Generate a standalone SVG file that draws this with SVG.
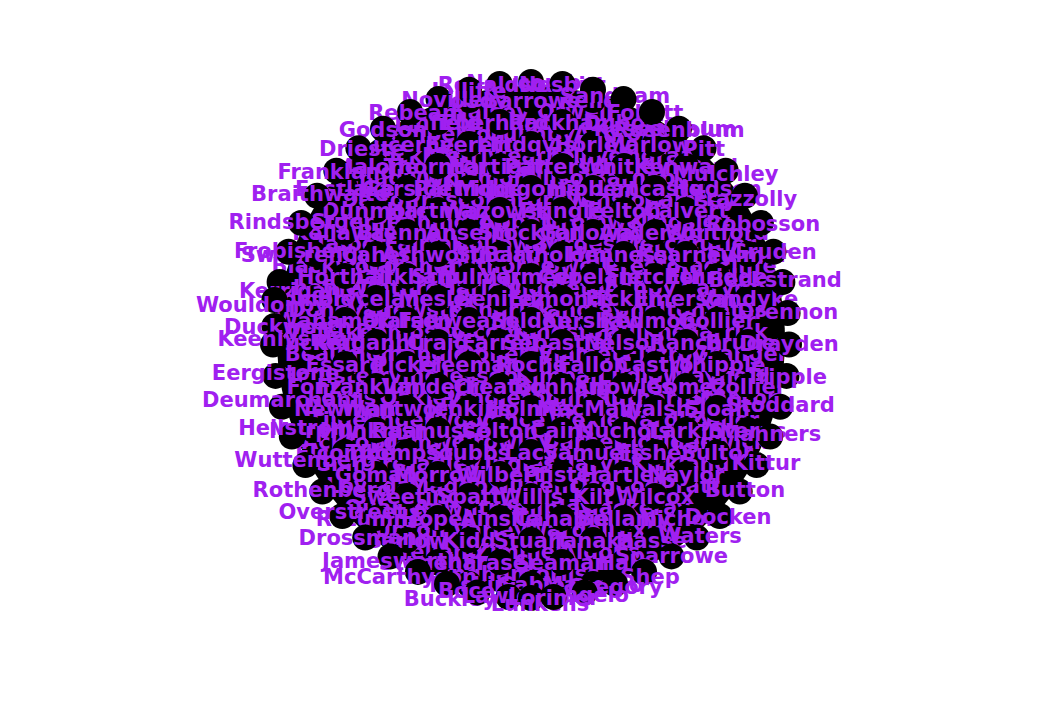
<svg xmlns="http://www.w3.org/2000/svg" width="1062" height="709" viewBox="0 0 1062 709">
<style>
.n circle{fill:#000}
.n text{font-family:"DejaVu Sans","Liberation Sans",Arial,sans-serif;font-weight:bold;font-size:21px;fill:#A020F0;text-anchor:middle}
</style>
<rect width="1062" height="709" fill="#fff"/>
<g id="cluster"><circle cx="531" cy="340" r="254" fill="#000"/></g>
<g id="connectors"></g>
<g id="interior-b">
<g id="n-Halsey" class="n"><circle cx="490" cy="111" r="13"/><text x="490" y="119">Halsey</text></g>
<g id="n-Orwell" class="n"><circle cx="575" cy="111" r="13"/><text x="575" y="119">Orwell</text></g>
<g id="n-Pemberton" class="n"><circle cx="440" cy="133" r="13"/><text x="440" y="141">Pemberton</text></g>
<g id="n-Quimby" class="n"><circle cx="530" cy="133" r="13"/><text x="530" y="141">Quimby</text></g>
<g id="n-Ashford" class="n"><circle cx="620" cy="133" r="13"/><text x="620" y="141">Ashford</text></g>
<g id="n-Lockhart" class="n"><circle cx="420" cy="155" r="13"/><text x="420" y="163">Lockhart</text></g>
<g id="n-Merriweather" class="n"><circle cx="505" cy="155" r="13"/><text x="505" y="163">Merriweather</text></g>
<g id="n-Tolliver" class="n"><circle cx="590" cy="155" r="13"/><text x="590" y="163">Tolliver</text></g>
<g id="n-Ingram" class="n"><circle cx="660" cy="155" r="13"/><text x="660" y="163">Ingram</text></g>
<g id="n-Chadwick" class="n"><circle cx="400" cy="177" r="13"/><text x="400" y="185">Chadwick</text></g>
<g id="n-Whitmore" class="n"><circle cx="480" cy="177" r="13"/><text x="480" y="185">Whitmore</text></g>
<g id="n-Ellison" class="n"><circle cx="560" cy="177" r="13"/><text x="560" y="185">Ellison</text></g>
<g id="n-Barnaby" class="n"><circle cx="640" cy="177" r="13"/><text x="640" y="185">Barnaby</text></g>
<g id="n-Dalton" class="n"><circle cx="380" cy="199" r="13"/><text x="380" y="207">Dalton</text></g>
<g id="n-Prescott" class="n"><circle cx="455" cy="199" r="13"/><text x="455" y="207">Prescott</text></g>
<g id="n-Hargrove" class="n"><circle cx="540" cy="199" r="13"/><text x="540" y="207">Hargrove</text></g>
<g id="n-Winslow" class="n"><circle cx="615" cy="199" r="13"/><text x="615" y="207">Winslow</text></g>
<g id="n-Ramsey" class="n"><circle cx="690" cy="199" r="13"/><text x="690" y="207">Ramsey</text></g>
<g id="n-Sutcliffe" class="n"><circle cx="360" cy="221" r="13"/><text x="360" y="229">Sutcliffe</text></g>
<g id="n-Pennington" class="n"><circle cx="440" cy="221" r="13"/><text x="440" y="229">Pennington</text></g>
<g id="n-Abbott" class="n"><circle cx="520" cy="221" r="13"/><text x="520" y="229">Abbott</text></g>
<g id="n-Cromwell" class="n"><circle cx="600" cy="221" r="13"/><text x="600" y="229">Cromwell</text></g>
<g id="n-Kingsley" class="n"><circle cx="680" cy="221" r="13"/><text x="680" y="229">Kingsley</text></g>
<g id="n-Talbot" class="n"><circle cx="350" cy="243" r="13"/><text x="350" y="251">Talbot</text></g>
<g id="n-Fairfax" class="n"><circle cx="425" cy="243" r="13"/><text x="425" y="251">Fairfax</text></g>
<g id="n-Holloway" class="n"><circle cx="505" cy="243" r="13"/><text x="505" y="251">Holloway</text></g>
<g id="n-Burgess" class="n"><circle cx="580" cy="243" r="13"/><text x="580" y="251">Burgess</text></g>
<g id="n-Mercer" class="n"><circle cx="660" cy="243" r="13"/><text x="660" y="251">Mercer</text></g>
<g id="n-Cutler" class="n"><circle cx="720" cy="243" r="13"/><text x="720" y="251">Cutler</text></g>
<g id="n-Blackwood" class="n"><circle cx="335" cy="265" r="13"/><text x="335" y="273">Blackwood</text></g>
<g id="n-Gardner" class="n"><circle cx="410" cy="265" r="13"/><text x="410" y="273">Gardner</text></g>
<g id="n-Hawthorne" class="n"><circle cx="490" cy="265" r="13"/><text x="490" y="273">Hawthorne</text></g>
<g id="n-Lowell" class="n"><circle cx="570" cy="265" r="13"/><text x="570" y="273">Lowell</text></g>
<g id="n-Preston" class="n"><circle cx="650" cy="265" r="13"/><text x="650" y="273">Preston</text></g>
<g id="n-Radcliffe" class="n"><circle cx="725" cy="265" r="13"/><text x="725" y="273">Radcliffe</text></g>
<g id="n-Sheffield" class="n"><circle cx="330" cy="287" r="13"/><text x="330" y="295">Sheffield</text></g>
<g id="n-Winthrop" class="n"><circle cx="400" cy="287" r="13"/><text x="400" y="295">Winthrop</text></g>
<g id="n-Harlow" class="n"><circle cx="480" cy="287" r="13"/><text x="480" y="295">Harlow</text></g>
<g id="n-Middleton" class="n"><circle cx="560" cy="287" r="13"/><text x="560" y="295">Middleton</text></g>
<g id="n-Ashby" class="n"><circle cx="640" cy="287" r="13"/><text x="640" y="295">Ashby</text></g>
<g id="n-Carver" class="n"><circle cx="720" cy="287" r="13"/><text x="720" y="295">Carver</text></g>
<g id="n-Donovan" class="n"><circle cx="340" cy="309" r="13"/><text x="340" y="317">Donovan</text></g>
<g id="n-Brewster" class="n"><circle cx="420" cy="309" r="13"/><text x="420" y="317">Brewster</text></g>
<g id="n-Kendrick" class="n"><circle cx="500" cy="309" r="13"/><text x="500" y="317">Kendrick</text></g>
<g id="n-Langley" class="n"><circle cx="580" cy="309" r="13"/><text x="580" y="317">Langley</text></g>
<g id="n-Shelton" class="n"><circle cx="660" cy="309" r="13"/><text x="660" y="317">Shelton</text></g>
<g id="n-Yates" class="n"><circle cx="735" cy="309" r="13"/><text x="735" y="317">Yates</text></g>
<g id="n-Whitaker" class="n"><circle cx="330" cy="331" r="13"/><text x="330" y="339">Whitaker</text></g>
<g id="n-Dempsey" class="n"><circle cx="410" cy="331" r="13"/><text x="410" y="339">Dempsey</text></g>
<g id="n-Holcomb" class="n"><circle cx="485" cy="331" r="13"/><text x="485" y="339">Holcomb</text></g>
<g id="n-Kingston" class="n"><circle cx="565" cy="331" r="13"/><text x="565" y="339">Kingston</text></g>
<g id="n-Faulkner" class="n"><circle cx="645" cy="331" r="13"/><text x="645" y="339">Faulkner</text></g>
<g id="n-Garrick" class="n"><circle cx="725" cy="331" r="13"/><text x="725" y="339">Garrick</text></g>
<g id="n-Beaumont" class="n"><circle cx="345" cy="353" r="13"/><text x="345" y="361">Beaumont</text></g>
<g id="n-Chandler" class="n"><circle cx="425" cy="353" r="13"/><text x="425" y="361">Chandler</text></g>
<g id="n-Doherty" class="n"><circle cx="505" cy="353" r="13"/><text x="505" y="361">Doherty</text></g>
<g id="n-Emmett" class="n"><circle cx="585" cy="353" r="13"/><text x="585" y="361">Emmett</text></g>
<g id="n-Fitzroy" class="n"><circle cx="665" cy="353" r="13"/><text x="665" y="361">Fitzroy</text></g>
<g id="n-Granger" class="n"><circle cx="740" cy="353" r="13"/><text x="740" y="361">Granger</text></g>
<g id="n-Hollister" class="n"><circle cx="330" cy="375" r="13"/><text x="330" y="383">Hollister</text></g>
<g id="n-Irving" class="n"><circle cx="405" cy="375" r="13"/><text x="405" y="383">Irving</text></g>
<g id="n-Jessop" class="n"><circle cx="480" cy="375" r="13"/><text x="480" y="383">Jessop</text></g>
<g id="n-Kimball" class="n"><circle cx="560" cy="375" r="13"/><text x="560" y="383">Kimball</text></g>
<g id="n-Ludlow" class="n"><circle cx="640" cy="375" r="13"/><text x="640" y="383">Ludlow</text></g>
<g id="n-Mayfield" class="n"><circle cx="720" cy="375" r="13"/><text x="720" y="383">Mayfield</text></g>
<g id="n-Norris" class="n"><circle cx="340" cy="397" r="13"/><text x="340" y="405">Norris</text></g>
<g id="n-Oakley" class="n"><circle cx="420" cy="397" r="13"/><text x="420" y="405">Oakley</text></g>
<g id="n-Pendleton" class="n"><circle cx="500" cy="397" r="13"/><text x="500" y="405">Pendleton</text></g>
<g id="n-Quinlan" class="n"><circle cx="580" cy="397" r="13"/><text x="580" y="405">Quinlan</text></g>
<g id="n-Rutherford" class="n"><circle cx="660" cy="397" r="13"/><text x="660" y="405">Rutherford</text></g>
<g id="n-Stanton" class="n"><circle cx="735" cy="397" r="13"/><text x="735" y="405">Stanton</text></g>
<g id="n-Tilden" class="n"><circle cx="345" cy="419" r="13"/><text x="345" y="427">Tilden</text></g>
<g id="n-Underwood" class="n"><circle cx="430" cy="419" r="13"/><text x="430" y="427">Underwood</text></g>
<g id="n-Vance" class="n"><circle cx="510" cy="419" r="13"/><text x="510" y="427">Vance</text></g>
<g id="n-Wexler" class="n"><circle cx="590" cy="419" r="13"/><text x="590" y="427">Wexler</text></g>
<g id="n-Yardley" class="n"><circle cx="670" cy="419" r="13"/><text x="670" y="427">Yardley</text></g>
<g id="n-Zeller" class="n"><circle cx="725" cy="419" r="13"/><text x="725" y="427">Zeller</text></g>
<g id="n-Ackroyd" class="n"><circle cx="350" cy="441" r="13"/><text x="350" y="449">Ackroyd</text></g>
<g id="n-Bramwell" class="n"><circle cx="425" cy="441" r="13"/><text x="425" y="449">Bramwell</text></g>
<g id="n-Crowley" class="n"><circle cx="505" cy="441" r="13"/><text x="505" y="449">Crowley</text></g>
<g id="n-Darnell" class="n"><circle cx="585" cy="441" r="13"/><text x="585" y="449">Darnell</text></g>
<g id="n-Eldridge" class="n"><circle cx="665" cy="441" r="13"/><text x="665" y="449">Eldridge</text></g>
<g id="n-Fenwick" class="n"><circle cx="720" cy="441" r="13"/><text x="720" y="449">Fenwick</text></g>
<g id="n-Gilmore" class="n"><circle cx="360" cy="463" r="13"/><text x="360" y="471">Gilmore</text></g>
<g id="n-Hadley" class="n"><circle cx="440" cy="463" r="13"/><text x="440" y="471">Hadley</text></g>
<g id="n-Ingles" class="n"><circle cx="520" cy="463" r="13"/><text x="520" y="471">Ingles</text></g>
<g id="n-Jarvis" class="n"><circle cx="600" cy="463" r="13"/><text x="600" y="471">Jarvis</text></g>
<g id="n-Kirkland" class="n"><circle cx="680" cy="463" r="13"/><text x="680" y="471">Kirkland</text></g>
<g id="n-Loveday" class="n"><circle cx="375" cy="485" r="13"/><text x="375" y="493">Loveday</text></g>
<g id="n-Maddox" class="n"><circle cx="455" cy="485" r="13"/><text x="455" y="493">Maddox</text></g>
<g id="n-Nugent" class="n"><circle cx="535" cy="485" r="13"/><text x="535" y="493">Nugent</text></g>
<g id="n-Osgood" class="n"><circle cx="615" cy="485" r="13"/><text x="615" y="493">Osgood</text></g>
<g id="n-Pratt" class="n"><circle cx="690" cy="485" r="13"/><text x="690" y="493">Pratt</text></g>
<g id="n-Quarles" class="n"><circle cx="390" cy="507" r="13"/><text x="390" y="515">Quarles</text></g>
<g id="n-Rowntree" class="n"><circle cx="470" cy="507" r="13"/><text x="470" y="515">Rowntree</text></g>
<g id="n-Shipley" class="n"><circle cx="550" cy="507" r="13"/><text x="550" y="515">Shipley</text></g>
<g id="n-Thackeray" class="n"><circle cx="630" cy="507" r="13"/><text x="630" y="515">Thackeray</text></g>
<g id="n-Upton" class="n"><circle cx="410" cy="529" r="13"/><text x="410" y="537">Upton</text></g>
<g id="n-Varley" class="n"><circle cx="490" cy="529" r="13"/><text x="490" y="537">Varley</text></g>
<g id="n-Wardell" class="n"><circle cx="570" cy="529" r="13"/><text x="570" y="537">Wardell</text></g>
<g id="n-Exley" class="n"><circle cx="650" cy="529" r="13"/><text x="650" y="537">Exley</text></g>
<g id="n-Yelland" class="n"><circle cx="440" cy="551" r="13"/><text x="440" y="559">Yelland</text></g>
<g id="n-Zimmer" class="n"><circle cx="520" cy="551" r="13"/><text x="520" y="559">Zimmer</text></g>
<g id="n-Aldous" class="n"><circle cx="600" cy="551" r="13"/><text x="600" y="559">Aldous</text></g>
<g id="n-Bingham" class="n"><circle cx="480" cy="573" r="13"/><text x="480" y="581">Bingham</text></g>
<g id="n-Corliss" class="n"><circle cx="560" cy="573" r="13"/><text x="560" y="581">Corliss</text></g>
</g>
<g id="interior">
<g id="n-Moody" class="n"><circle cx="469" cy="100" r="13"/><text x="469" y="108">Moody</text></g>
<g id="n-Barrows" class="n"><circle cx="531" cy="100" r="13"/><text x="531" y="108">Barrows</text></g>
<g id="n-Keller" class="n"><circle cx="593" cy="100" r="13"/><text x="593" y="108">Keller</text></g>
<g id="n-Linfield" class="n"><circle cx="438" cy="122" r="13"/><text x="438" y="130">Linfield</text></g>
<g id="n-Eberhardt" class="n"><circle cx="500" cy="122" r="13"/><text x="500" y="130">Eberhardt</text></g>
<g id="n-Rackham" class="n"><circle cx="562" cy="122" r="13"/><text x="562" y="130">Rackham</text></g>
<g id="n-Dubois" class="n"><circle cx="624" cy="122" r="13"/><text x="624" y="130">Dubois</text></g>
<g id="n-Lucerne" class="n"><circle cx="407" cy="144" r="13"/><text x="407" y="152">Lucerne</text></g>
<g id="n-Everett" class="n"><circle cx="469" cy="144" r="13"/><text x="469" y="152">Everett</text></g>
<g id="n-Lindqvist" class="n"><circle cx="531" cy="144" r="13"/><text x="531" y="152">Lindqvist</text></g>
<g id="n-Horley" class="n"><circle cx="593" cy="144" r="13"/><text x="593" y="152">Horley</text></g>
<g id="n-Marlowe" class="n"><circle cx="655" cy="144" r="13"/><text x="655" y="152">Marlowe</text></g>
<g id="n-Malone" class="n"><circle cx="376" cy="166" r="13"/><text x="376" y="174">Malone</text></g>
<g id="n-Thornton" class="n"><circle cx="438" cy="166" r="13"/><text x="438" y="174">Thornton</text></g>
<g id="n-Hartigan" class="n"><circle cx="500" cy="166" r="13"/><text x="500" y="174">Hartigan</text></g>
<g id="n-Patterson" class="n"><circle cx="562" cy="166" r="13"/><text x="562" y="174">Patterson</text></g>
<g id="n-Whitley" class="n"><circle cx="624" cy="166" r="13"/><text x="624" y="174">Whitley</text></g>
<g id="n-Kenward" class="n"><circle cx="686" cy="166" r="13"/><text x="686" y="174">Kenward</text></g>
<g id="n-Eastlake" class="n"><circle cx="345" cy="188" r="13"/><text x="345" y="196">Eastlake</text></g>
<g id="n-Garside" class="n"><circle cx="407" cy="188" r="13"/><text x="407" y="196">Garside</text></g>
<g id="n-Partridge" class="n"><circle cx="469" cy="188" r="13"/><text x="469" y="196">Partridge</text></g>
<g id="n-Montgomery" class="n"><circle cx="531" cy="188" r="13"/><text x="531" y="196">Montgomery</text></g>
<g id="n-Hibbert" class="n"><circle cx="593" cy="188" r="13"/><text x="593" y="196">Hibbert</text></g>
<g id="n-Lancaster" class="n"><circle cx="655" cy="188" r="13"/><text x="655" y="196">Lancaster</text></g>
<g id="n-Hudson" class="n"><circle cx="717" cy="188" r="13"/><text x="717" y="196">Hudson</text></g>
<g id="n-Dunmore" class="n"><circle cx="376" cy="210" r="13"/><text x="376" y="218">Dunmore</text></g>
<g id="n-Hartman" class="n"><circle cx="438" cy="210" r="13"/><text x="438" y="218">Hartman</text></g>
<g id="n-Wazowski" class="n"><circle cx="500" cy="210" r="13"/><text x="500" y="218">Wazowski</text></g>
<g id="n-Pringle" class="n"><circle cx="562" cy="210" r="13"/><text x="562" y="218">Pringle</text></g>
<g id="n-Felton" class="n"><circle cx="624" cy="210" r="13"/><text x="624" y="218">Felton</text></g>
<g id="n-Calvert" class="n"><circle cx="686" cy="210" r="13"/><text x="686" y="218">Calvert</text></g>
<g id="n-Kellaway" class="n"><circle cx="345" cy="232" r="13"/><text x="345" y="240">Kellaway</text></g>
<g id="n-Brennan" class="n"><circle cx="407" cy="232" r="13"/><text x="407" y="240">Brennan</text></g>
<g id="n-Anselm" class="n"><circle cx="469" cy="232" r="13"/><text x="469" y="240">Anselm</text></g>
<g id="n-Stockton" class="n"><circle cx="531" cy="232" r="13"/><text x="531" y="240">Stockton</text></g>
<g id="n-Galloway" class="n"><circle cx="593" cy="232" r="13"/><text x="593" y="240">Galloway</text></g>
<g id="n-Anderson" class="n"><circle cx="655" cy="232" r="13"/><text x="655" y="240">Anderson</text></g>
<g id="n-Whitford" class="n"><circle cx="717" cy="232" r="13"/><text x="717" y="240">Whitford</text></g>
<g id="n-Swearengen" class="n"><circle cx="314" cy="254" r="13"/><text x="314" y="262">Swearengen</text></g>
<g id="n-Caher" class="n"><circle cx="376" cy="254" r="13"/><text x="376" y="262">Caher</text></g>
<g id="n-Ashworth" class="n"><circle cx="438" cy="254" r="13"/><text x="438" y="262">Ashworth</text></g>
<g id="n-Sinclair" class="n"><circle cx="500" cy="254" r="13"/><text x="500" y="262">Sinclair</text></g>
<g id="n-Bartholomew" class="n"><circle cx="562" cy="254" r="13"/><text x="562" y="262">Bartholomew</text></g>
<g id="n-Hennessy" class="n"><circle cx="624" cy="254" r="13"/><text x="624" y="262">Hennessy</text></g>
<g id="n-Kearney" class="n"><circle cx="686" cy="254" r="13"/><text x="686" y="262">Kearney</text></g>
<g id="n-Fulmer" class="n"><circle cx="748" cy="254" r="13"/><text x="748" y="262">Fulmer</text></g>
<g id="n-Horthall" class="n"><circle cx="345" cy="276" r="13"/><text x="345" y="284">Horthall</text></g>
<g id="n-Larkham" class="n"><circle cx="407" cy="276" r="13"/><text x="407" y="284">Larkham</text></g>
<g id="n-Schulman" class="n"><circle cx="469" cy="276" r="13"/><text x="469" y="284">Schulman</text></g>
<g id="n-Vermeer" class="n"><circle cx="531" cy="276" r="13"/><text x="531" y="284">Vermeer</text></g>
<g id="n-Copeland" class="n"><circle cx="593" cy="276" r="13"/><text x="593" y="284">Copeland</text></g>
<g id="n-Fletcher" class="n"><circle cx="655" cy="276" r="13"/><text x="655" y="284">Fletcher</text></g>
<g id="n-Ethridge" class="n"><circle cx="717" cy="276" r="13"/><text x="717" y="284">Ethridge</text></g>
<g id="n-Trombley" class="n"><circle cx="314" cy="298" r="13"/><text x="314" y="306">Trombley</text></g>
<g id="n-Bryceland" class="n"><circle cx="376" cy="298" r="13"/><text x="376" y="306">Bryceland</text></g>
<g id="n-Mesler" class="n"><circle cx="438" cy="298" r="13"/><text x="438" y="306">Mesler</text></g>
<g id="n-Benitez" class="n"><circle cx="500" cy="298" r="13"/><text x="500" y="306">Benitez</text></g>
<g id="n-Edmonds" class="n"><circle cx="562" cy="298" r="13"/><text x="562" y="306">Edmonds</text></g>
<g id="n-Ficklin" class="n"><circle cx="624" cy="298" r="13"/><text x="624" y="306">Ficklin</text></g>
<g id="n-Emerson" class="n"><circle cx="686" cy="298" r="13"/><text x="686" y="306">Emerson</text></g>
<g id="n-Vandyke" class="n"><circle cx="748" cy="298" r="13"/><text x="748" y="306">Vandyke</text></g>
<g id="n-Wanamaker" class="n"><circle cx="345" cy="320" r="13"/><text x="345" y="328">Wanamaker</text></g>
<g id="n-Olafsen" class="n"><circle cx="407" cy="320" r="13"/><text x="407" y="328">Olafsen</text></g>
<g id="n-Fairweather" class="n"><circle cx="469" cy="320" r="13"/><text x="469" y="328">Fairweather</text></g>
<g id="n-Seldon" class="n"><circle cx="531" cy="320" r="13"/><text x="531" y="328">Seldon</text></g>
<g id="n-Kershaw" class="n"><circle cx="593" cy="320" r="13"/><text x="593" y="328">Kershaw</text></g>
<g id="n-Redmond" class="n"><circle cx="655" cy="320" r="13"/><text x="655" y="328">Redmond</text></g>
<g id="n-Gollier" class="n"><circle cx="717" cy="320" r="13"/><text x="717" y="328">Gollier</text></g>
<g id="n-Duckett" class="n"><circle cx="314" cy="342" r="13"/><text x="314" y="350">Duckett</text></g>
<g id="n-Rigganhue" class="n"><circle cx="376" cy="342" r="13"/><text x="376" y="350">Rigganhue</text></g>
<g id="n-Craig" class="n"><circle cx="438" cy="342" r="13"/><text x="438" y="350">Craig</text></g>
<g id="n-Farrell" class="n"><circle cx="500" cy="342" r="13"/><text x="500" y="350">Farrell</text></g>
<g id="n-Sebastian" class="n"><circle cx="562" cy="342" r="13"/><text x="562" y="350">Sebastian</text></g>
<g id="n-Nelson" class="n"><circle cx="624" cy="342" r="13"/><text x="624" y="350">Nelson</text></g>
<g id="n-Ranch" class="n"><circle cx="686" cy="342" r="13"/><text x="686" y="350">Ranch</text></g>
<g id="n-Bruden" class="n"><circle cx="748" cy="342" r="13"/><text x="748" y="350">Bruden</text></g>
<g id="n-Essard" class="n"><circle cx="345" cy="364" r="13"/><text x="345" y="372">Essard</text></g>
<g id="n-Pickel" class="n"><circle cx="407" cy="364" r="13"/><text x="407" y="372">Pickel</text></g>
<g id="n-Freeman" class="n"><circle cx="469" cy="364" r="13"/><text x="469" y="372">Freeman</text></g>
<g id="n-Roche" class="n"><circle cx="531" cy="364" r="13"/><text x="531" y="372">Roche</text></g>
<g id="n-Fallon" class="n"><circle cx="593" cy="364" r="13"/><text x="593" y="372">Fallon</text></g>
<g id="n-Castro" class="n"><circle cx="655" cy="364" r="13"/><text x="655" y="372">Castro</text></g>
<g id="n-Whipple" class="n"><circle cx="717" cy="364" r="13"/><text x="717" y="372">Whipple</text></g>
<g id="n-Fonz" class="n"><circle cx="314" cy="386" r="13"/><text x="314" y="394">Fonz</text></g>
<g id="n-Franklund" class="n"><circle cx="376" cy="386" r="13"/><text x="376" y="394">Franklund</text></g>
<g id="n-Vanderlin" class="n"><circle cx="438" cy="386" r="13"/><text x="438" y="394">Vanderlin</text></g>
<g id="n-Creaton" class="n"><circle cx="500" cy="386" r="13"/><text x="500" y="394">Creaton</text></g>
<g id="n-Bonham" class="n"><circle cx="562" cy="386" r="13"/><text x="562" y="394">Bonham</text></g>
<g id="n-Knowles" class="n"><circle cx="624" cy="386" r="13"/><text x="624" y="394">Knowles</text></g>
<g id="n-Gomez" class="n"><circle cx="686" cy="386" r="13"/><text x="686" y="394">Gomez</text></g>
<g id="n-Collier" class="n"><circle cx="748" cy="386" r="13"/><text x="748" y="394">Collier</text></g>
<g id="n-Newman" class="n"><circle cx="345" cy="408" r="13"/><text x="345" y="416">Newman</text></g>
<g id="n-Wentworth" class="n"><circle cx="407" cy="408" r="13"/><text x="407" y="416">Wentworth</text></g>
<g id="n-Jenkins" class="n"><circle cx="469" cy="408" r="13"/><text x="469" y="416">Jenkins</text></g>
<g id="n-Holmes" class="n"><circle cx="531" cy="408" r="13"/><text x="531" y="416">Holmes</text></g>
<g id="n-MacMann" class="n"><circle cx="593" cy="408" r="13"/><text x="593" y="416">MacMann</text></g>
<g id="n-Walsh" class="n"><circle cx="655" cy="408" r="13"/><text x="655" y="416">Walsh</text></g>
<g id="n-Sloan" class="n"><circle cx="717" cy="408" r="13"/><text x="717" y="416">Sloan</text></g>
<g id="n-Murphy" class="n"><circle cx="314" cy="430" r="13"/><text x="314" y="438">Murphy</text></g>
<g id="n-Hunkman" class="n"><circle cx="376" cy="430" r="13"/><text x="376" y="438">Hunkman</text></g>
<g id="n-Rasmussen" class="n"><circle cx="438" cy="430" r="13"/><text x="438" y="438">Rasmussen</text></g>
<g id="n-Colton" class="n"><circle cx="500" cy="430" r="13"/><text x="500" y="438">Colton</text></g>
<g id="n-Cains" class="n"><circle cx="562" cy="430" r="13"/><text x="562" y="438">Cains</text></g>
<g id="n-Nuchols" class="n"><circle cx="624" cy="430" r="13"/><text x="624" y="438">Nuchols</text></g>
<g id="n-Larkin" class="n"><circle cx="686" cy="430" r="13"/><text x="686" y="438">Larkin</text></g>
<g id="n-Sterns" class="n"><circle cx="748" cy="430" r="13"/><text x="748" y="438">Sterns</text></g>
<g id="n-Elcombe" class="n"><circle cx="345" cy="452" r="13"/><text x="345" y="460">Elcombe</text></g>
<g id="n-Thompson" class="n"><circle cx="407" cy="452" r="13"/><text x="407" y="460">Thompson</text></g>
<g id="n-Stubbs" class="n"><circle cx="469" cy="452" r="13"/><text x="469" y="460">Stubbs</text></g>
<g id="n-Lacy" class="n"><circle cx="531" cy="452" r="13"/><text x="531" y="460">Lacy</text></g>
<g id="n-Samuels" class="n"><circle cx="593" cy="452" r="13"/><text x="593" y="460">Samuels</text></g>
<g id="n-Fisher" class="n"><circle cx="655" cy="452" r="13"/><text x="655" y="460">Fisher</text></g>
<g id="n-Sultor" class="n"><circle cx="717" cy="452" r="13"/><text x="717" y="460">Sultor</text></g>
<g id="n-Goman" class="n"><circle cx="376" cy="474" r="13"/><text x="376" y="482">Goman</text></g>
<g id="n-Morrow" class="n"><circle cx="438" cy="474" r="13"/><text x="438" y="482">Morrow</text></g>
<g id="n-Wilbert" class="n"><circle cx="500" cy="474" r="13"/><text x="500" y="482">Wilbert</text></g>
<g id="n-Pfister" class="n"><circle cx="562" cy="474" r="13"/><text x="562" y="482">Pfister</text></g>
<g id="n-Hartley" class="n"><circle cx="624" cy="474" r="13"/><text x="624" y="482">Hartley</text></g>
<g id="n-Naylor" class="n"><circle cx="686" cy="474" r="13"/><text x="686" y="482">Naylor</text></g>
<g id="n-Sweeting" class="n"><circle cx="407" cy="496" r="13"/><text x="407" y="504">Sweeting</text></g>
<g id="n-Spatt" class="n"><circle cx="469" cy="496" r="13"/><text x="469" y="504">Spatt</text></g>
<g id="n-Willis" class="n"><circle cx="531" cy="496" r="13"/><text x="531" y="504">Willis</text></g>
<g id="n-Kilt" class="n"><circle cx="593" cy="496" r="13"/><text x="593" y="504">Kilt</text></g>
<g id="n-Wilcox" class="n"><circle cx="655" cy="496" r="13"/><text x="655" y="504">Wilcox</text></g>
<g id="n-Rotumney" class="n"><circle cx="376" cy="518" r="13"/><text x="376" y="526">Rotumney</text></g>
<g id="n-Hopes" class="n"><circle cx="438" cy="518" r="13"/><text x="438" y="526">Hopes</text></g>
<g id="n-Ainslie" class="n"><circle cx="500" cy="518" r="13"/><text x="500" y="526">Ainslie</text></g>
<g id="n-Canapie" class="n"><circle cx="562" cy="518" r="13"/><text x="562" y="526">Canapie</text></g>
<g id="n-Bellamy" class="n"><circle cx="624" cy="518" r="13"/><text x="624" y="526">Bellamy</text></g>
<g id="n-Nicholls" class="n"><circle cx="686" cy="518" r="13"/><text x="686" y="526">Nicholls</text></g>
<g id="n-Barlow" class="n"><circle cx="407" cy="540" r="13"/><text x="407" y="548">Barlow</text></g>
<g id="n-Kidd" class="n"><circle cx="469" cy="540" r="13"/><text x="469" y="548">Kidd</text></g>
<g id="n-Stuart" class="n"><circle cx="531" cy="540" r="13"/><text x="531" y="548">Stuart</text></g>
<g id="n-Tanaka" class="n"><circle cx="593" cy="540" r="13"/><text x="593" y="548">Tanaka</text></g>
<g id="n-Hassel" class="n"><circle cx="655" cy="540" r="13"/><text x="655" y="548">Hassel</text></g>
<g id="n-Stonehart" class="n"><circle cx="438" cy="562" r="13"/><text x="438" y="570">Stonehart</text></g>
<g id="n-Fraser" class="n"><circle cx="500" cy="562" r="13"/><text x="500" y="570">Fraser</text></g>
<g id="n-Seaman" class="n"><circle cx="562" cy="562" r="13"/><text x="562" y="570">Seaman</text></g>
<g id="n-Hale" class="n"><circle cx="624" cy="562" r="13"/><text x="624" y="570">Hale</text></g>
<g id="n-Ruskin" class="n"><circle cx="469" cy="584" r="13"/><text x="469" y="592">Ruskin</text></g>
<g id="n-Gable" class="n"><circle cx="531" cy="584" r="13"/><text x="531" y="592">Gable</text></g>
<g id="n-Mangalo" class="n"><circle cx="593" cy="584" r="13"/><text x="593" y="592">Mangalo</text></g>
</g>
<g id="rim">
<g id="n-Newcombe" class="n"><circle cx="531" cy="82" r="13"/><text x="531" y="90">Newcombe</text></g>
<g id="n-Ronaldson" class="n"><circle cx="499.6" cy="83.9" r="13"/><text x="499.6" y="92">Ronaldson</text></g>
<g id="n-Jolliffe" class="n"><circle cx="469" cy="89.7" r="13"/><text x="469" y="98">Jolliffe</text></g>
<g id="n-Noville" class="n"><circle cx="438.5" cy="99.1" r="13"/><text x="442" y="107">Noville</text></g>
<g id="n-Rebeam" class="n"><circle cx="410" cy="112" r="13"/><text x="416" y="120">Rebeam</text></g>
<g id="n-Godson" class="n"><circle cx="383" cy="128.7" r="13"/><text x="383" y="137">Godson</text></g>
<g id="n-Drieste" class="n"><circle cx="358.4" cy="148.3" r="13"/><text x="362" y="156">Drieste</text></g>
<g id="n-Frankland" class="n"><circle cx="336.3" cy="170.7" r="13"/><text x="336.3" y="179">Frankland</text></g>
<g id="n-Braithwaite" class="n"><circle cx="317.1" cy="195.7" r="13"/><text x="320" y="201">Braithwaite</text></g>
<g id="n-Rindsberger" class="n"><circle cx="301.1" cy="222.9" r="13"/><text x="301.1" y="229">Rindsberger</text></g>
<g id="n-Frobisher" class="n"><circle cx="288.6" cy="251.8" r="13"/><text x="290" y="258">Frobisher</text></g>
<g id="n-Kerrigan" class="n"><circle cx="279.6" cy="282" r="13"/><text x="290" y="298">Kerrigan</text></g>
<g id="n-Wouldonby" class="n"><circle cx="274.4" cy="300" r="13"/><text x="262" y="312">Wouldonby</text></g>
<g id="n-Duckworth" class="n"><circle cx="274.4" cy="326" r="13"/><text x="288" y="334">Duckworth</text></g>
<g id="n-Keenlyside" class="n"><circle cx="273" cy="344.5" r="13"/><text x="282" y="346">Keenlyside</text></g>
<g id="n-Eergistone" class="n"><circle cx="275.5" cy="375.9" r="13"/><text x="275.5" y="380">Eergistone</text></g>
<g id="n-Deumarchant" class="n"><circle cx="281.8" cy="406.8" r="13"/><text x="281.8" y="407">Deumarchant</text></g>
<g id="n-Hellstrom" class="n"><circle cx="291.8" cy="436.6" r="13"/><text x="296" y="435">Hellstrom</text></g>
<g id="n-Wuttenberg" class="n"><circle cx="305.4" cy="465.1" r="13"/><text x="305.4" y="467">Wuttenberg</text></g>
<g id="n-Rothenberg" class="n"><circle cx="322.3" cy="491.6" r="13"/><text x="322.3" y="497">Rothenberg</text></g>
<g id="n-Overstreet" class="n"><circle cx="342.3" cy="516" r="13"/><text x="342.3" y="519">Overstreet</text></g>
<g id="n-Drossmann" class="n"><circle cx="365.2" cy="537.6" r="13"/><text x="365.2" y="545">Drossmann</text></g>
<g id="n-Jamesworth" class="n"><circle cx="390.5" cy="556.4" r="13"/><text x="392" y="568">Jamesworth</text></g>
<g id="n-McCarthyson" class="n"><circle cx="417.9" cy="571.9" r="13"/><text x="400" y="584">McCarthyson</text></g>
<g id="n-Buckley" class="n"><circle cx="447" cy="583.9" r="13"/><text x="450" y="606">Buckley</text></g>
<g id="n-Bocelli" class="n"><circle cx="477.4" cy="592.4" r="13"/><text x="477.4" y="598">Bocelli</text></g>
<g id="n-Lawless" class="n"><circle cx="508.5" cy="597" r="13"/><text x="508.5" y="603">Lawless</text></g>
<g id="n-Lunkens" class="n"><circle cx="531" cy="598" r="13"/><text x="540" y="611">Lunkens</text></g>
<g id="n-Nesbitt" class="n"><circle cx="562.4" cy="83.9" r="13"/><text x="562.4" y="92">Nesbitt</text></g>
<g id="n-Sandham" class="n"><circle cx="593" cy="89.7" r="13"/><text x="615" y="103">Sandham</text></g>
<g id="n-Follett" class="n"><circle cx="623.5" cy="99.1" r="13"/><text x="645" y="120">Follett</text></g>
<g id="n-Kesselbaum" class="n"><circle cx="652" cy="112" r="13"/><text x="665" y="136">Kesselbaum</text></g>
<g id="n-Rosenblum" class="n"><circle cx="679" cy="128.7" r="13"/><text x="679" y="137">Rosenblum</text></g>
<g id="n-Pitt" class="n"><circle cx="703.6" cy="148.3" r="13"/><text x="703.6" y="156">Pitt</text></g>
<g id="n-Mulchley" class="n"><circle cx="725.7" cy="170.7" r="13"/><text x="725.7" y="181">Mulchley</text></g>
<g id="n-Frazzolly" class="n"><circle cx="744.9" cy="195.7" r="13"/><text x="744.9" y="206">Frazzolly</text></g>
<g id="n-Robosson" class="n"><circle cx="760.9" cy="222.9" r="13"/><text x="763" y="231">Robosson</text></g>
<g id="n-Gruden" class="n"><circle cx="773.4" cy="251.8" r="13"/><text x="773.4" y="259">Gruden</text></g>
<g id="n-Beckstrand" class="n"><circle cx="782.4" cy="282" r="13"/><text x="775" y="287">Beckstrand</text></g>
<g id="n-Drennon" class="n"><circle cx="787.6" cy="313" r="13"/><text x="787.6" y="319">Drennon</text></g>
<g id="n-Drayden" class="n"><circle cx="789" cy="344.5" r="13"/><text x="789" y="351">Drayden</text></g>
<g id="n-Tripple" class="n"><circle cx="786.5" cy="375.9" r="13"/><text x="786.5" y="384">Tripple</text></g>
<g id="n-Stoddard" class="n"><circle cx="780.2" cy="406.8" r="13"/><text x="780.2" y="412">Stoddard</text></g>
<g id="n-Manners" class="n"><circle cx="770.2" cy="436.6" r="13"/><text x="770.2" y="441">Manners</text></g>
<g id="n-Kittur" class="n"><circle cx="756.6" cy="465.1" r="13"/><text x="766" y="470">Kittur</text></g>
<g id="n-Button" class="n"><circle cx="739.7" cy="491.6" r="13"/><text x="745" y="497">Button</text></g>
<g id="n-Docken" class="n"><circle cx="719.7" cy="516" r="13"/><text x="728" y="524">Docken</text></g>
<g id="n-Waters" class="n"><circle cx="696.8" cy="537.6" r="13"/><text x="700" y="543">Waters</text></g>
<g id="n-Sparrowe" class="n"><circle cx="671.5" cy="556.4" r="13"/><text x="671.5" y="563">Sparrowe</text></g>
<g id="n-Shep" class="n"><circle cx="644.1" cy="571.9" r="13"/><text x="650" y="584">Shep</text></g>
<g id="n-Gregory" class="n"><circle cx="615" cy="583.9" r="13"/><text x="615" y="594">Gregory</text></g>
<g id="n-Angelo" class="n"><circle cx="584.6" cy="592.4" r="13"/><text x="588" y="602">Angelo</text></g>
<g id="n-Lorimer" class="n"><circle cx="553.5" cy="597" r="13"/><text x="553.5" y="605">Lorimer</text></g>
</g>
</svg>
